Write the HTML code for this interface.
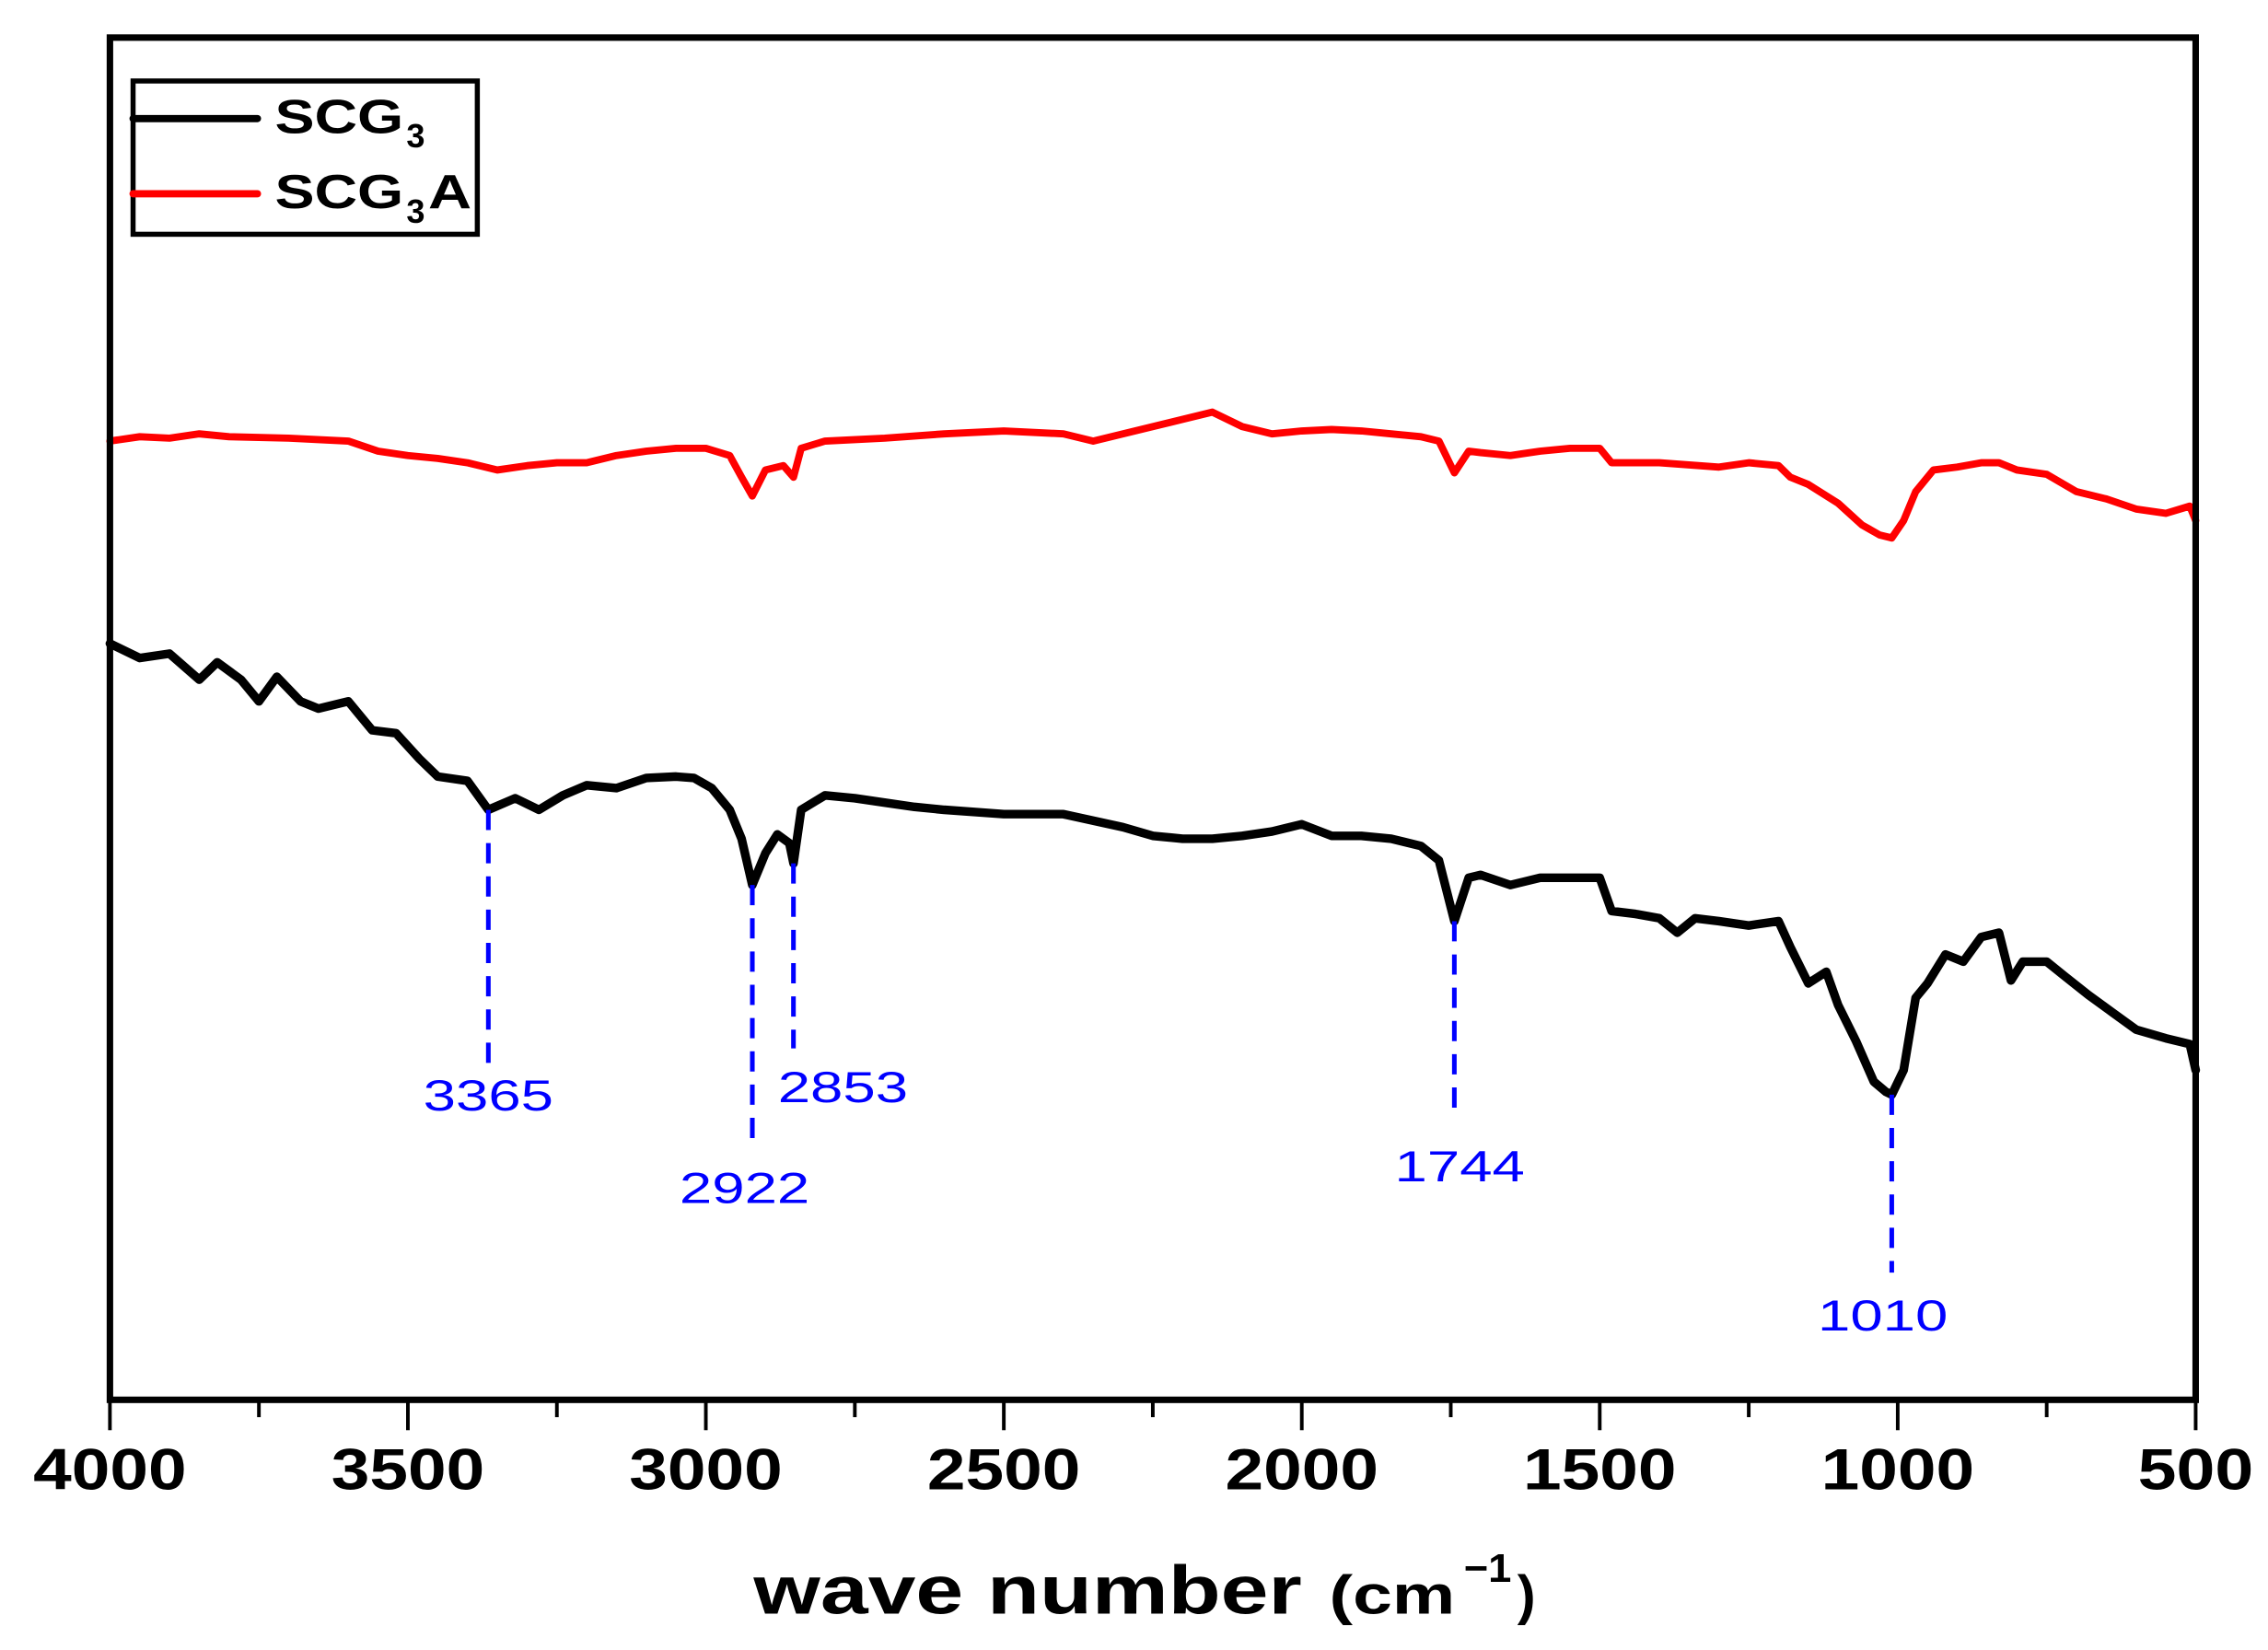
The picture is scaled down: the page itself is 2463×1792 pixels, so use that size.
<!DOCTYPE html>
<html><head><meta charset="utf-8"><style>
html,body{margin:0;padding:0;background:#fff;}
svg{display:block;}
text{font-family:"Liberation Sans",Arial,sans-serif;}
</style></head><body>
<svg id="chart" width="2463" height="1792" viewBox="0 0 1568 1141" preserveAspectRatio="none" xmlns="http://www.w3.org/2000/svg">
<rect x="0" y="0" width="1568" height="1141" fill="#fff"/>
<g id="plot"></g>
<rect x="76" y="26" width="1442" height="942" fill="none" stroke="#000" stroke-width="4.5"/>
<g id="ticks"></g>
<text x="521" y="1116" font-size="47" font-weight="bold" textLength="379" lengthAdjust="spacingAndGlyphs">wave number</text>
<text x="919" y="1116" font-size="38" font-weight="bold" textLength="87" lengthAdjust="spacingAndGlyphs">(cm</text>
<text x="1012" y="1094" font-size="28" font-weight="bold" textLength="33" lengthAdjust="spacingAndGlyphs">−1</text>
<text x="1049" y="1116" font-size="38" font-weight="bold">)</text>
<g>
<rect x="92" y="56" width="238" height="106" fill="#fff" stroke="#000" stroke-width="3.5"/>
<line x1="92" y1="82" x2="178" y2="82" stroke="#000" stroke-width="5" stroke-linecap="round"/>
<text x="190" y="92" font-size="33" font-weight="bold" textLength="89" lengthAdjust="spacingAndGlyphs">SCG</text>
<text x="281" y="102" font-size="23" font-weight="bold">3</text>
<line x1="92" y1="134" x2="178" y2="134" stroke="#f00" stroke-width="5" stroke-linecap="round"/>
<text x="190" y="144" font-size="33" font-weight="bold" textLength="89" lengthAdjust="spacingAndGlyphs">SCG</text>
<text x="281" y="154" font-size="23" font-weight="bold">3</text>
<text x="296" y="144" font-size="33" font-weight="bold" textLength="30" lengthAdjust="spacingAndGlyphs">A</text>
</g>
</svg>
<script>
const wnBlack=[4000,3950,3900,3850,3820,3780,3750,3720,3680,3650,3600,3560,3520,3480,3450,3400,3365,3320,3280,3240,3200,3150,3100,3050,3020,2990,2960,2940,2922,2900,2880,2860,2853,2840,2800,2750,2700,2650,2600,2500,2400,2300,2250,2200,2150,2100,2050,2000,1950,1900,1850,1800,1770,1744,1720,1700,1650,1600,1550,1500,1480,1440,1400,1370,1340,1300,1250,1200,1180,1150,1120,1100,1070,1040,1020,1010,990,970,950,920,890,860,830,810,790,750,720,680,640,600,550,510,500];
const yDispBlack=[445,455,452,470,458,470,485,468,485,490,485,505,507,525,537,540,560,552,560,550,543,545,538,537,538,545,560,580,612,590,577,583,597,560,550,552,555,558,560,563,563,572,578,580,580,578,575,570,578,578,580,585,595,637,607,605,612,607,607,607,630,632,635,645,635,637,640,637,655,680,672,695,720,748,755,757,740,690,680,660,665,648,645,678,665,665,675,688,700,712,718,722,740];
const wnRed=[4000,3950,3900,3850,3800,3700,3600,3550,3500,3450,3400,3350,3300,3250,3200,3150,3100,3050,3000,2960,2940,2922,2900,2870,2853,2840,2800,2700,2600,2500,2400,2350,2300,2250,2200,2150,2100,2050,2000,1950,1900,1850,1800,1770,1744,1720,1700,1650,1600,1550,1500,1480,1400,1300,1250,1200,1180,1150,1100,1060,1030,1010,990,970,940,900,860,830,800,750,700,650,600,550,510,500];
const yDispRed=[305,302,303,300,302,303,305,312,315,317,320,325,322,320,320,315,312,310,310,315,330,343,325,322,330,310,305,303,300,298,300,305,300,295,290,285,295,300,298,297,298,300,302,305,327,312,313,315,312,310,310,320,320,323,320,322,330,335,348,363,370,372,360,340,325,323,320,320,325,328,340,345,352,355,350,360];
const valBlack=yDispBlack.map(d=>(1000-d)/10);
const valRed=yDispRed.map(d=>(1000-d)/10);
const tickValues=[4000,3500,3000,2500,2000,1500,1000,500];
const minorTicks=[3750,3250,2750,2250,1750,1250,750];
const peakWn=[3365,2922,2853,1744,1010];
const peakLabels=["3365","2922","2853","1744","1010"];
const peakLabelWn=[3365,2935,2770,1735,1025];
const peakLineEnd=[735,790,725,775,880];
const peakLabelBase=[768,832,762,817,920];
const peakTopBlack=[44.0,38.8,40.3,36.3,24.3];

const NS="http://www.w3.org/2000/svg";
function xs(w){return 76+(4000-w)/3500*1442;}
function ys(v){return 1000-v*10;}
const plot=document.getElementById('plot');
const ticks=document.getElementById('ticks');
function mk(tag,attrs,parent){const e=document.createElementNS(NS,tag);for(const k in attrs)e.setAttribute(k,attrs[k]);parent.appendChild(e);return e;}
function series(wn,val,color,w,name){
  const d=wn.map((x,i)=>(i?'L':'M')+xs(x).toFixed(1)+' '+ys(val[i]).toFixed(1)).join(' ');
  const p=mk('path',{d:d,fill:'none',stroke:color,'stroke-width':w,'stroke-linejoin':'round','stroke-linecap':'round'},plot);
  
  
}
series(wnRed,valRed,'#f00',5,'series-scg3a');
series(wnBlack,valBlack,'#000',6,'series-scg3');
peakWn.forEach((w,i)=>{
  const l=mk('line',{x1:xs(w),x2:xs(w),y1:ys(peakTopBlack[i]),y2:peakLineEnd[i],stroke:'#00f','stroke-width':3.2,'stroke-dasharray':'14 9'},plot);
  
  
  const t=mk('text',{x:xs(peakLabelWn[i]),y:peakLabelBase[i],'text-anchor':'middle','font-size':30,fill:'#00f',textLength:90,lengthAdjust:'spacingAndGlyphs'},plot);
  t.textContent=peakLabels[i];
  
  
});
tickValues.forEach(v=>{
  const l=mk('line',{x1:xs(v),x2:xs(v),y1:968,y2:989,stroke:'#000','stroke-width':2.5},ticks);
  
  
  const t=mk('text',{x:xs(v),y:1030,'text-anchor':'middle','font-size':40,'font-weight':'bold',textLength:v>=1000?106:80,lengthAdjust:'spacingAndGlyphs'},ticks);
  t.textContent=String(v);
  
  
});
minorTicks.forEach(v=>{
  const l=mk('line',{x1:xs(v),x2:xs(v),y1:968,y2:980,stroke:'#000','stroke-width':2.5},ticks);
  
  
});
</script>
</body></html>
